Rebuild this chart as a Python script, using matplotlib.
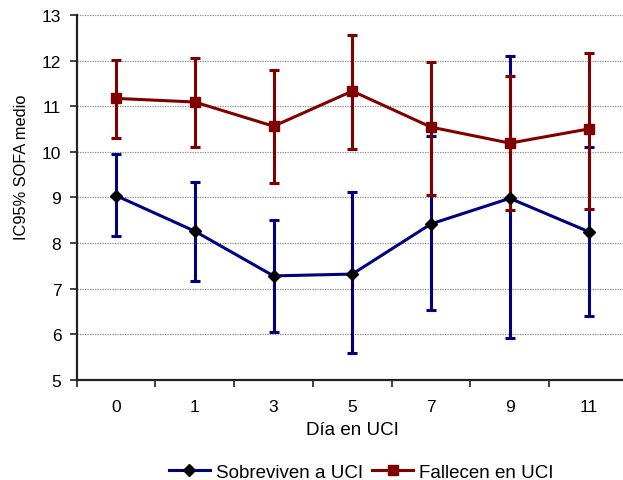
import numpy as np
import matplotlib.pyplot as plt

plt.rcParams['font.family'] = ['Liberation Sans', 'DejaVu Sans']

dias = ['0', '1', '3', '5', '7', '9', '11']

# Sobreviven a UCI: media e IC95%
sob_media = [9.04, 8.26, 7.28, 7.32, 8.42, 8.98, 8.25]
sob_sup = [9.96, 9.34, 8.51, 9.11, 10.35, 12.09, 10.11]
sob_inf = [8.15, 7.16, 6.04, 5.59, 6.54, 5.92, 6.41]

# Fallecen en UCI: media e IC95%
fal_media = [11.17, 11.09, 10.56, 11.33, 10.54, 10.19, 10.50]
fal_sup = [12.02, 12.06, 11.79, 12.55, 11.96, 11.66, 12.17]
fal_inf = [10.31, 10.11, 9.31, 10.06, 9.06, 8.72, 8.75]

azul = '#000080'
rojo = '#800000'

fig = plt.figure(figsize=(6.23, 4.81), dpi=100)
ax = fig.add_axes([0.123, 0.208, 0.885, 0.759])

x = np.arange(len(dias))
sm = np.array(sob_media)
fm = np.array(fal_media)
sob_err = [sm - np.array(sob_inf), np.array(sob_sup) - sm]
fal_err = [fm - np.array(fal_inf), np.array(fal_sup) - fm]

ax.errorbar(x, sm, yerr=sob_err, color=azul, lw=2.2, elinewidth=2.2,
            capsize=3.8, capthick=2.2, zorder=3)
ax.errorbar(x, fm, yerr=fal_err, color=rojo, lw=2.2, elinewidth=2.2,
            capsize=3.8, capthick=2.2, marker='s', ms=7, mfc=rojo, mec=rojo,
            zorder=4)
ax.plot(x, sm, ls='none', marker='D', ms=6.5, mfc='black', mec='black', zorder=5)

# handles for the legend
h1, = ax.plot([], [], color=azul, lw=2.2, marker='D', ms=6.5, mfc='black', mec='black')
h2, = ax.plot([], [], color=rojo, lw=2.2, marker='s', ms=7, mfc=rojo, mec=rojo)

ax.set_xlim(-0.5, len(dias) - 0.5)
ax.set_ylim(5, 13)
ax.set_yticks(range(5, 14))
ax.set_xticks(x)
ax.set_xticklabels(dias)
ax.set_xticks(np.arange(-0.5, len(dias), 1), minor=True)
ax.tick_params(axis='x', which='major', length=0, pad=14, labelsize=12.5)
ax.tick_params(axis='x', which='minor', length=5, width=1.2, color='#222222')
ax.tick_params(axis='y', length=5, width=1.2, color='#222222', labelsize=12.5, pad=6)

ax.yaxis.grid(True, color='#888888', lw=0.9, ls=(0, (1, 1)))
ax.set_axisbelow(True)
for s in ['top', 'right']:
    ax.spines[s].set_visible(False)
for s in ['left', 'bottom']:
    ax.spines[s].set_linewidth(1.6)
    ax.spines[s].set_color('#222222')

ax.set_xlabel('Día en UCI', fontsize=13.5, labelpad=5)
ax.set_ylabel('IC95% SOFA medio', fontsize=11.8)
ax.yaxis.set_label_coords(-0.087, 0.584)

fig.legend([h1, h2], ['Sobreviven a UCI', 'Fallecen en UCI'], loc='center',
           bbox_to_anchor=(361 / 623, 1 - 473 / 481), ncol=2, frameon=False,
           fontsize=13.5, handlelength=2.2, columnspacing=0.5, handletextpad=0.3)

fig.savefig('out.png', dpi=100)
